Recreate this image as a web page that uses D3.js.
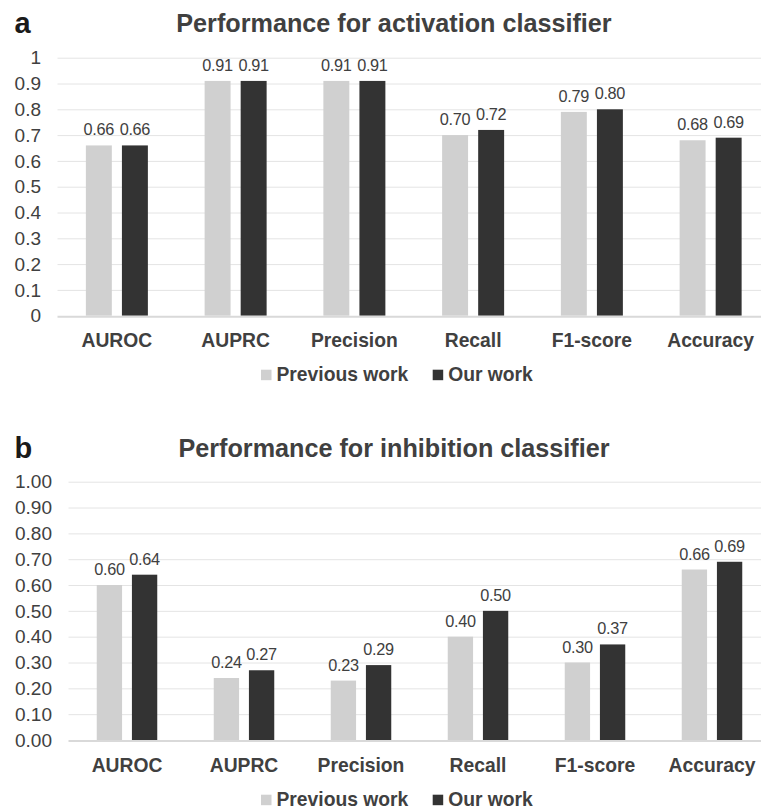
<!DOCTYPE html>
<html><head><meta charset="utf-8">
<script src="https://cdn.jsdelivr.net/npm/d3@7"></script>
<style>
html,body{margin:0;padding:0;background:#fff;}
svg{display:block;font-family:"Liberation Sans",Arial,sans-serif;}
</style></head>
<body>
<svg id="chart" width="761" height="809"></svg>
<script>
const categories = ["AUROC","AUPRC","Precision","Recall","F1-score","Accuracy"];
const seriesNames = ["Previous work","Our work"];
const seriesColors = ["#d0d0d0","#333333"];
const activationPrev = [0.66,0.91,0.91,0.70,0.79,0.68];
const activationOurs = [0.66,0.91,0.91,0.72,0.80,0.69];
const inhibitionPrev = [0.60,0.24,0.23,0.40,0.30,0.66];
const inhibitionOurs = [0.64,0.27,0.29,0.50,0.37,0.69];
const ticksA = [0,0.1,0.2,0.3,0.4,0.5,0.6,0.7,0.8,0.9,1];
const ticksB = [0,0.1,0.2,0.3,0.4,0.5,0.6,0.7,0.8,0.9,1];

const svg = d3.select("#chart");
const textColor = "#404040";

function panel(cfg){
  const g = svg.append("g");
  const y = d3.scaleLinear().domain([0,1]).range([cfg.y0, cfg.y1]);
  const x0 = d3.scaleBand().domain(categories).range([cfg.xl, cfg.xr]).padding(0);
  const x1 = d3.scaleBand().domain(seriesNames).range([0, cfg.pair]).paddingInner(cfg.pin);
  const off = (x0.bandwidth()-cfg.pair)/2;

  g.selectAll("line.grid").data(cfg.ticks.filter(t=>t>0)).join("line")
    .attr("x1", cfg.xl).attr("x2", cfg.xr)
    .attr("y1", d=>y(d)+0.5).attr("y2", d=>y(d)+0.5)
    .attr("stroke","#e4e4e4").attr("stroke-width",1);

  g.selectAll("text.tick").data(cfg.ticks).join("text")
    .attr("x", cfg.tickX).attr("y", d=>y(d))
    .attr("dy","0.35em").attr("text-anchor","end")
    .attr("font-size",19).attr("fill",textColor)
    .text(cfg.fmt);

  const data = [cfg.prev, cfg.ours];
  categories.forEach((c,i)=>{
    seriesNames.forEach((s,j)=>{
      const v = data[j][i];
      const bx = x0(c)+off+x1(s);
      g.append("rect").attr("x",bx).attr("y",y(v))
        .attr("width",x1.bandwidth()).attr("height",y(0)-y(v))
        .attr("fill",seriesColors[j]);
      g.append("text").attr("x",bx+x1.bandwidth()/2).attr("y",y(v)-10)
        .attr("text-anchor","middle").attr("font-size",16.3).attr("letter-spacing","-0.3")
        .attr("fill",textColor)
        .text(v.toFixed(2));
    });
  });

  g.append("line").attr("x1",cfg.xl).attr("x2",cfg.xr)
    .attr("y1",y(0)+1).attr("y2",y(0)+1)
    .attr("stroke","#d9d9d9").attr("stroke-width",2);

  g.selectAll("text.cat").data(categories).join("text")
    .attr("x", d=>x0(d)+x0.bandwidth()/2).attr("y", y(0)+cfg.catDy)
    .attr("text-anchor","middle").attr("font-size",19.3).attr("font-weight","bold")
    .attr("fill",textColor).text(d=>d);

  g.append("text").attr("x",394).attr("y",cfg.titleY).attr("text-anchor","middle")
    .attr("font-size",25.2).attr("font-weight","bold").attr("fill",textColor).text(cfg.title);
  g.append("text").attr("x",14.5).attr("y",cfg.titleY+1)
    .attr("font-size",29).attr("font-weight","bold").attr("fill","#1a1a1a").text(cfg.letter);

  const ly = y(0)+cfg.legDy;
  const legX = [261, 432.7];
  seriesNames.forEach((s,j)=>{
    g.append("rect").attr("x",legX[j]).attr("y",ly-11).attr("width",10.5).attr("height",10.5)
      .attr("fill",seriesColors[j]);
    g.append("text").attr("x",legX[j]+15.5).attr("y",ly).attr("font-size",19.3)
      .attr("font-weight","bold").attr("fill",textColor).text(s);
  });
}

panel({y0:315.7, y1:57.7, xl:57.5, xr:770, pair:62, pin:0.28, ticks:ticksA,
  fmt:d=>d3.format("")(+d.toFixed(1)), tickX:41, prev:activationPrev, ours:activationOurs,
  catDy:31, legDy:65, title:"Performance for activation classifier", titleY:31.7, letter:"a"});
panel({y0:740, y1:481.7, xl:68.5, xr:770.5, pair:60.5, pin:0.28, ticks:ticksB,
  fmt:d=>d.toFixed(2), tickX:52, prev:inhibitionPrev, ours:inhibitionOurs,
  catDy:32, legDy:65.7, title:"Performance for inhibition classifier", titleY:456.7, letter:"b"});
</script>
</body></html>
